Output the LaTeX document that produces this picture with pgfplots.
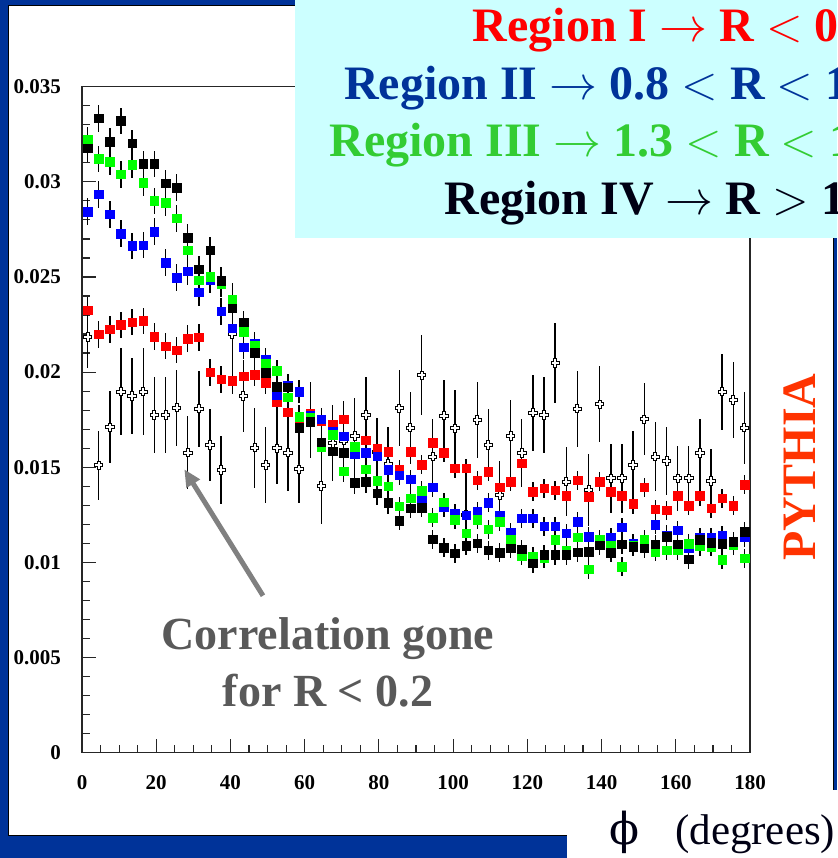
\documentclass[border=0pt]{standalone}
\usepackage{fix-cm}
\usepackage{fontspec}
\setmainfont{Liberation Serif}
\newfontfamily\dejavuserif{DejaVu Serif}
\usepackage{pgfplots}
\pgfplotsset{compat=1.18}
\usepackage{pgfplotstable}
\usetikzlibrary{arrows.meta}

\definecolor{slideblue}{RGB}{0,51,153}
\definecolor{boxcyan}{RGB}{204,255,255}
\definecolor{regred}{RGB}{255,0,0}
\definecolor{regblue}{RGB}{0,51,153}
\definecolor{reggreen}{RGB}{51,204,51}
\definecolor{regdark}{RGB}{0,0,20}
\definecolor{notegray}{RGB}{89,89,89}
\definecolor{arrowgray}{RGB}{128,128,128}
\definecolor{pythiared}{RGB}{255,51,0}
\definecolor{sqred}{RGB}{255,0,0}
\definecolor{sqblue}{RGB}{0,0,255}
\definecolor{sqgreen}{RGB}{0,255,0}

% open cross marker (hollow "plus")
\pgfdeclareplotmark{ocross}{%
  \pgfpathmoveto{\pgfpoint{-1.5pt}{4.2pt}}%
  \pgfpathlineto{\pgfpoint{1.5pt}{4.2pt}}%
  \pgfpathlineto{\pgfpoint{1.5pt}{1.5pt}}%
  \pgfpathlineto{\pgfpoint{4.2pt}{1.5pt}}%
  \pgfpathlineto{\pgfpoint{4.2pt}{-1.5pt}}%
  \pgfpathlineto{\pgfpoint{1.5pt}{-1.5pt}}%
  \pgfpathlineto{\pgfpoint{1.5pt}{-4.2pt}}%
  \pgfpathlineto{\pgfpoint{-1.5pt}{-4.2pt}}%
  \pgfpathlineto{\pgfpoint{-1.5pt}{-1.5pt}}%
  \pgfpathlineto{\pgfpoint{-4.2pt}{-1.5pt}}%
  \pgfpathlineto{\pgfpoint{-4.2pt}{1.5pt}}%
  \pgfpathlineto{\pgfpoint{-1.5pt}{1.5pt}}%
  \pgfpathclose
  \pgfusepathqfillstroke}

% phi distribution per region; ce = error of the coloured series, werr = error of R<0.2
\pgfplotstableread{
x red blue green black white werr ce
1.5 0.02326 0.02843 0.03220 0.03176 0.02184 0.0016 0.0007
4.5 0.02199 0.02934 0.03120 0.03334 0.01510 0.0018 0.0007
7.5 0.02225 0.02829 0.03106 0.03211 0.01710 0.0019 0.0007
10.5 0.02248 0.02729 0.03040 0.03320 0.01897 0.0023 0.0007
13.5 0.02263 0.02663 0.03090 0.03202 0.01874 0.0020 0.0007
16.5 0.02269 0.02668 0.02997 0.03094 0.01897 0.0023 0.0007
19.5 0.02186 0.02738 0.02900 0.03094 0.01775 0.0020 0.0007
22.5 0.02137 0.02575 0.02890 0.02992 0.01775 0.0020 0.0007
25.5 0.02116 0.02496 0.02808 0.02969 0.01813 0.0020 0.0007
28.5 0.02176 0.02530 0.02640 0.02706 0.01577 0.0019 0.0007
31.5 0.02183 0.02420 0.02484 0.02540 0.01808 0.0020 0.0007
34.5 0.01999 0.02487 0.02500 0.02640 0.01617 0.0019 0.0007
37.5 0.01962 0.02320 0.02465 0.02480 0.01486 0.0018 0.0007
40.5 0.01956 0.02231 0.02380 0.02335 0.02199 0.0027 0.0007
43.5 0.01978 0.02130 0.02212 0.02262 0.01875 0.0019 0.0006
46.5 0.01986 0.02150 0.02140 0.02101 0.01603 0.0021 0.0006
49.5 0.01943 0.02065 0.02047 0.01998 0.01512 0.0020 0.0006
52.5 0.01843 0.01880 0.02006 0.01922 0.01600 0.0019 0.0006
55.5 0.01790 0.01930 0.01868 0.01920 0.01577 0.0020 0.0006
58.5 0.01730 0.01897 0.01766 0.01708 0.01490 0.0018 0.0006
61.5 0.01785 0.01774 0.01764 0.01739 0.01750 0.0020 0.0006
64.5 0.01745 0.01752 0.01608 0.01631 0.01401 0.0020 0.0006
67.5 0.01727 0.01690 0.01670 0.01585 0.01626 0.0020 0.0006
70.5 0.01752 0.01664 0.01480 0.01576 0.01640 0.0021 0.0006
73.5 0.01585 0.01570 0.01608 0.01420 0.01664 0.0020 0.0006
76.5 0.01643 0.01576 0.01489 0.01424 0.01775 0.0020 0.0006
79.5 0.01600 0.01559 0.01429 0.01363 0.01580 0.0018 0.0006
82.5 0.01582 0.01486 0.01401 0.01314 0.01520 0.0019 0.0006
85.5 0.01490 0.01459 0.01296 0.01219 0.01810 0.0020 0.0005
88.5 0.01582 0.01437 0.01337 0.01284 0.01708 0.0019 0.0005
91.5 0.01512 0.01332 0.01377 0.01288 0.01983 0.0021 0.0005
94.5 0.01629 0.01395 0.01235 0.01121 0.01556 0.0020 0.0005
97.5 0.01576 0.01290 0.01316 0.01077 0.01771 0.0019 0.0005
100.5 0.01495 0.01258 0.01226 0.01048 0.01705 0.0020 0.0005
103.5 0.01495 0.01249 0.01153 0.01088 0.01250 0.0020 0.0005
106.5 0.01433 0.01270 0.01226 0.01100 0.01748 0.0020 0.0005
109.5 0.01477 0.01314 0.01174 0.01065 0.01617 0.0019 0.0005
112.5 0.01395 0.01249 0.01214 0.01051 0.01354 0.0018 0.0005
115.5 0.01424 0.01156 0.01118 0.01074 0.01664 0.0019 0.0005
118.5 0.01521 0.01232 0.01034 0.01070 0.01576 0.0018 0.0005
121.5 0.01372 0.01232 0.01030 0.00995 0.01787 0.0020 0.0005
124.5 0.01389 0.01191 0.01022 0.01039 0.01775 0.0020 0.0005
127.5 0.01380 0.01191 0.01118 0.01039 0.02049 0.0021 0.0005
130.5 0.01349 0.01153 0.01065 0.01039 0.01424 0.0018 0.0005
133.5 0.01433 0.01214 0.01132 0.01053 0.01808 0.0020 0.0005
136.5 0.01345 0.01135 0.00964 0.01056 0.01380 0.0019 0.0005
139.5 0.01424 0.01120 0.01121 0.01091 0.01831 0.0020 0.0005
142.5 0.01372 0.01132 0.01090 0.01051 0.01442 0.0018 0.0005
145.5 0.01349 0.01184 0.00977 0.01095 0.01442 0.0018 0.0005
148.5 0.01307 0.01100 0.01091 0.01082 0.01512 0.0018 0.0005
151.5 0.01395 0.01100 0.01118 0.01074 0.01752 0.0019 0.0005
154.5 0.01279 0.01197 0.01056 0.01095 0.01556 0.0018 0.0005
157.5 0.01275 0.01144 0.01065 0.01135 0.01533 0.0018 0.0005
160.5 0.01349 0.01170 0.01065 0.01095 0.01442 0.0017 0.0005
163.5 0.01298 0.01076 0.01097 0.01016 0.01442 0.0017 0.0005
166.5 0.01349 0.01132 0.01086 0.01118 0.01576 0.0018 0.0005
169.5 0.01284 0.01132 0.01082 0.01104 0.01428 0.0017 0.0005
172.5 0.01337 0.01139 0.01013 0.01097 0.01897 0.0020 0.0005
175.5 0.01298 0.01110 0.01090 0.01109 0.01853 0.0020 0.0005
178.5 0.01407 0.01132 0.01022 0.01161 0.01708 0.0019 0.0005
}\phidata

\pgfplotsset{
  errstyle/.style={error bars/.cd, y dir=both, y explicit, error mark=none,
    error bar style={black, line width=1.4pt}},
}

\begin{document}
\begin{tikzpicture}[x=1pt,y=1pt]
% slide background and white plot panel
\fill[slideblue] (0,0) rectangle (837,858);
\filldraw[fill=white, draw=black, line width=0.8pt] (8,23) rectangle (833,853);
\fill[white] (567,0) rectangle (837,68);

\begin{axis}[
  at={(82pt,105.3pt)}, anchor=south west,
  scale only axis, width=668pt, height=666pt,
  xmin=0, xmax=180, ymin=0, ymax=0.035,
  xtick={0,20,...,180},
  xticklabels={0,20,40,60,80,100,120,140,160,180},
  ytick={0,0.005,0.01,0.015,0.02,0.025,0.03,0.035},
  yticklabels={0,0.005,0.01,0.015,0.02,0.025,0.03,0.035},
  minor x tick num=3, minor y tick num=4,
  tick pos=left, tick align=inside,
  major tick length=13.5pt, minor tick length=7.5pt,
  axis line style={black!85, line width=1.2pt},
  every tick/.append style={black!85, line width=1.2pt},
  ticklabel style={font=\fontsize{21}{21}\selectfont\bfseries, inner sep=0pt},
  xticklabel style={anchor=north, yshift=-23pt},
  yticklabel style={anchor=east, xshift=-21pt},
  scaled y ticks=false,
]
\addplot[only marks, mark=ocross, mark options={fill=white, draw=black, line width=0.9pt}, errstyle]
  table[x=x, y=white, y error=werr] {\phidata};
\addplot[only marks, color=sqred, mark=square*, mark size=4.3pt, errstyle]
  table[x=x, y=red, y error=ce] {\phidata};
\addplot[only marks, color=sqblue, mark=square*, mark size=4.3pt, errstyle]
  table[x=x, y=blue, y error=ce] {\phidata};
\addplot[only marks, color=sqgreen, mark=square*, mark size=4.3pt, errstyle]
  table[x=x, y=green, y error=ce] {\phidata};
\addplot[only marks, color=black, mark=square*, mark size=4.3pt, errstyle]
  table[x=x, y=black, y error=ce] {\phidata};
\end{axis}

% annotation for the R < 0.2 sample
\draw[arrowgray, line width=5pt, -{Triangle[width=15pt,length=17pt]}] (263,262.3) -- (184.3,388.7);
\node[anchor=base, inner sep=0pt, text=notegray, font=\fontsize{46}{56}\selectfont\bfseries] at (328,208) {Correlation gone};
\node[anchor=base, inner sep=0pt, text=notegray, font=\fontsize{46}{56}\selectfont\bfseries] at (328,151) {for R < 0.2};

% region key
\begin{scope}
\clip (0,0) rectangle (837,858);
\fill[boxcyan] (295,620) rectangle (837,858);
\node[anchor=base west, inner sep=0pt, text=regred, font=\fontsize{48}{58}\selectfont\bfseries] at (472.7,816) {Region I $\rightarrow$ R $<$ 0.8};
\node[anchor=base west, inner sep=0pt, text=regblue, font=\fontsize{48}{58}\selectfont\bfseries] at (344,758) {Region II $\rightarrow$ 0.8 $<$ R $<$ 1.3};
\node[anchor=base west, inner sep=0pt, text=reggreen, font=\fontsize{48}{58}\selectfont\bfseries] at (329.3,701) {Region III $\rightarrow$ 1.3 $<$ R $<$ 1.8};
\node[anchor=base west, inner sep=0pt, text=regdark, font=\fontsize{48}{58}\selectfont\bfseries] at (444.3,643) {Region IV $\rightarrow$ R $>$ 1.8};
\node[rotate=90, anchor=base, inner sep=0pt, text=pythiared, font=\fontsize{48}{48}\selectfont\bfseries] at (815,391) {PYTHIA};
\node[anchor=base, inner sep=0pt, text=regdark, font=\dejavuserif\fontsize{44}{44}\selectfont] at (624,13) {ϕ};
\node[anchor=base west, inner sep=0pt, text=regdark, font=\fontsize{43}{43}\selectfont] at (675,13) {(degrees)};
\end{scope}

\pgfresetboundingbox
\path[use as bounding box] (0,0) rectangle (837,858);
\end{tikzpicture}
\end{document}
